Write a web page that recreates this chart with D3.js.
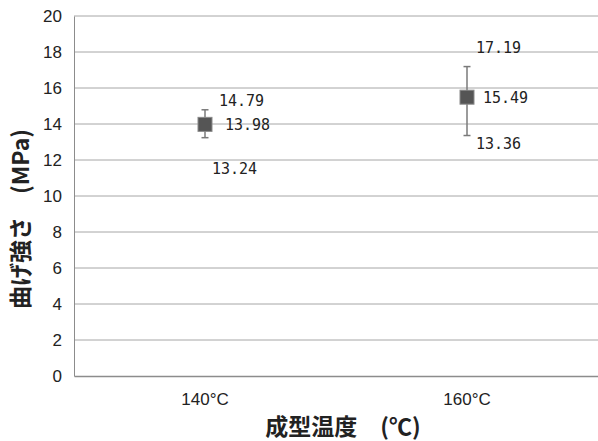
<!DOCTYPE html>
<html>
<head>
<meta charset="utf-8">
<script src="https://cdn.jsdelivr.net/npm/d3@7"></script>
<style>
  body { margin: 0; background: #fff; }
</style>
</head>
<body>
<svg id="chart" width="598" height="441"></svg>
<script>
// data
const temps = ["140°C", "160°C"];
const means = [13.98, 15.49];
const highs = [14.79, 17.19];
const lows = [13.24, 13.36];
const yTicks = [0, 2, 4, 6, 8, 10, 12, 14, 16, 18, 20];

const svg = d3.select("#chart");
const margin = {top: 16, right: 0, bottom: 65, left: 74};
const W = 598, H = 441;

const x = d3.scaleBand().domain(temps).range([margin.left, W - margin.right]);
const y = d3.scaleLinear().domain([0, 20]).range([H - margin.bottom, margin.top]);

// gridlines
svg.append("g")
  .selectAll("line")
  .data(yTicks.filter(d => d > 0))
  .join("line")
    .attr("x1", margin.left).attr("x2", W)
    .attr("y1", d => y(d)).attr("y2", d => y(d))
    .attr("stroke", "#a6a6a6").attr("stroke-width", 1);

// y axis
const yAxis = svg.append("g")
  .attr("transform", `translate(${margin.left},0)`)
  .call(d3.axisLeft(y).tickValues(yTicks).tickSize(0).tickPadding(12));
yAxis.select(".domain").attr("stroke", "#8c8c8c");
yAxis.selectAll("text")
  .attr("font-family", "'Liberation Sans Narrow', 'Liberation Sans', sans-serif")
  .attr("font-size", 17).attr("fill", "#222");

// x axis
const xAxis = svg.append("g")
  .attr("transform", `translate(0,${y(0)})`)
  .call(d3.axisBottom(x).tickSize(0).tickPadding(17));
xAxis.select(".domain").attr("stroke", "#8c8c8c").attr("stroke-width", 1.3);
xAxis.selectAll("text")
  .attr("font-family", "'Liberation Sans Narrow', 'Liberation Sans', sans-serif")
  .attr("font-size", 17).attr("fill", "#222");

// error bars
const cx = i => x(temps[i]) + x.bandwidth() / 2;
const pts = svg.append("g");
temps.forEach((t, i) => {
  const g = pts.append("g");
  g.append("line")
    .attr("x1", cx(i)).attr("x2", cx(i))
    .attr("y1", y(highs[i])).attr("y2", y(lows[i]))
    .attr("stroke", "#7a7a7a").attr("stroke-width", 1.5);
  [highs[i], lows[i]].forEach(v => {
    g.append("line")
      .attr("x1", cx(i) - 3.5).attr("x2", cx(i) + 3.5)
      .attr("y1", y(v)).attr("y2", y(v))
      .attr("stroke", "#7a7a7a").attr("stroke-width", 1.5);
  });
  g.append("rect")
    .attr("x", cx(i) - 7).attr("y", y(means[i]) - 7)
    .attr("width", 14).attr("height", 14)
    .attr("fill", "#555").attr("stroke", "#8a8a8a").attr("stroke-width", 1);
});

// value labels
const lblFont = "'DejaVu Sans Mono', monospace";
const labels = [
  {v: highs[0], i: 0, dx: 14, dy: -9},
  {v: means[0], i: 0, dx: 20, dy: 1},
  {v: lows[0], i: 0, dx: 7, dy: 31},
  {v: highs[1], i: 1, dx: 9, dy: -19},
  {v: means[1], i: 1, dx: 16, dy: 1},
  {v: lows[1], i: 1, dx: 9, dy: 8}
];
svg.append("g")
  .selectAll("text")
  .data(labels)
  .join("text")
    .attr("x", d => cx(d.i) + d.dx)
    .attr("y", d => y(d.v) + d.dy)
    .attr("dominant-baseline", "central")
    .attr("font-family", lblFont)
    .attr("font-size", 15).attr("fill", "#222")
    .text(d => d.v.toFixed(2));

// axis titles
svg.append("text")
  .attr("transform", "translate(19,219) rotate(-90)")
  .attr("text-anchor", "middle")
  .attr("dominant-baseline", "central")
  .attr("font-family", "'Noto Sans CJK JP', sans-serif")
  .attr("font-weight", "bold").attr("font-size", 23).attr("fill", "#222")
  .text("曲げ強さ　(MPa)");

svg.append("text")
  .attr("x", 343).attr("y", 425)
  .attr("text-anchor", "middle")
  .attr("dominant-baseline", "central")
  .attr("font-family", "'Noto Sans CJK JP', sans-serif")
  .attr("font-weight", "bold").attr("font-size", 23).attr("fill", "#222")
  .text("成型温度　(℃)");
</script>
</body>
</html>
